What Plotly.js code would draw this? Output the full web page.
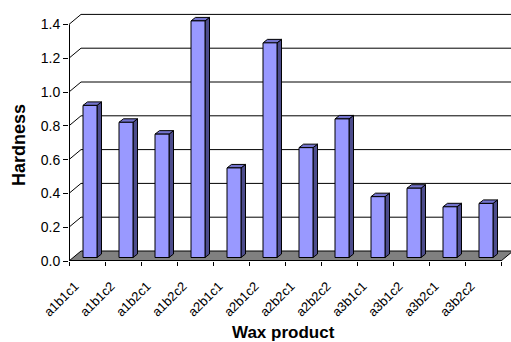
<!DOCTYPE html>
<html>
<head>
<meta charset="utf-8">
<script src="https://cdn.plot.ly/plotly-3.0.1.min.js"></script>
<style>html,body{margin:0;padding:0;background:#fff;}#chart{width:511px;height:342px;}</style>
</head>
<body>
<div id="chart"></div>
<script>
// ---- data ----
const categories = ['a1b1c1','a1b1c2','a1b2c1','a1b2c2','a2b1c1','a2b1c2','a2b2c1','a2b2c2','a3b1c1','a3b1c2','a3b2c1','a3b2c2'];
const hardness = [0.90, 0.80, 0.73, 1.40, 0.53, 1.27, 0.65, 0.82, 0.36, 0.41, 0.30, 0.32];
const yTicks = [0.0, 0.2, 0.4, 0.6, 0.8, 1.0, 1.2, 1.4];
const xTitle = 'Wax product';
const yTitle = 'Hardness';

// ---- geometry (pixels -> data units) ----
const W = 511, H = 342;
const M = {l: 69, r: 0, t: 8, b: 81};
const pxCat = 36;            // px per category
const pxUnit = 169;          // px per hardness unit
const xMin = -0.5;
const xMax = xMin + (W - M.l - M.r) / pxCat;
const yMax = (H - M.t - M.b) / pxUnit;
const n = categories.length;
const xEnd = xMin + n;
const wallDx = 12 / pxCat, wallDy = 10 / pxUnit;   // back wall depth offset
const barOffX = 3 / pxCat, barOffY = 3.5 / pxUnit; // bar front face position in depth
const barW = 14 / pxCat;
const barDx = 4.5 / pxCat, barDy = 3.5 / pxUnit;   // bar depth
const labelShift = -12 / pxCat;                    // tick label anchor shift
const yTop = yTicks[yTicks.length - 1];

function poly(arrX, arrY, pts) { pts.forEach(p => { arrX.push(p[0]); arrY.push(p[1]); }); arrX.push(null); arrY.push(null); }

// gridlines on the back wall + side wall diagonals
const gx = [], gy = [];
yTicks.forEach(v => { if (v > 0) poly(gx, gy, [[xMin, v], [xMin + wallDx, v + wallDy], [xMax, v + wallDy]]); });

// floor
const fx = [], fy = [];
poly(fx, fy, [[xMin, 0], [xEnd, 0], [xEnd + wallDx, wallDy], [xMin + wallDx, wallDy], [xMin, 0]]);

// bars
const frX = [], frY = [], sdX = [], sdY = [], tpX = [], tpY = [];
hardness.forEach((v, i) => {
  const xl = i - barW / 2 + barOffX, xr = xl + barW;
  const b = barOffY, t = barOffY + v;
  poly(frX, frY, [[xl, b], [xr, b], [xr, t], [xl, t], [xl, b]]);
  poly(sdX, sdY, [[xr, b], [xr + barDx, b + barDy], [xr + barDx, t + barDy], [xr, t], [xr, b]]);
  poly(tpX, tpY, [[xl, t], [xr, t], [xr + barDx, t + barDy], [xl + barDx, t + barDy], [xl, t]]);
});

const lineBlack = {color: '#000', width: 1};
const traces = [
  {x: gx, y: gy, mode: 'lines', line: lineBlack, hoverinfo: 'skip'},
  {x: fx, y: fy, mode: 'lines', fill: 'toself', fillcolor: '#808080', line: lineBlack, hoverinfo: 'skip'},
  {x: sdX, y: sdY, mode: 'lines', fill: 'toself', fillcolor: '#4c4c8c', line: lineBlack, hoverinfo: 'skip'},
  {x: tpX, y: tpY, mode: 'lines', fill: 'toself', fillcolor: '#7373cc', line: lineBlack, hoverinfo: 'skip'},
  {x: frX, y: frY, mode: 'lines', fill: 'toself', fillcolor: '#9999ff', line: lineBlack, hoverinfo: 'skip'},
  {x: [xMin, xMin], y: [0, yTop], mode: 'lines', line: {color: '#000', width: 2}, hoverinfo: 'skip'},
  {x: [xMin, xEnd], y: [0, 0], mode: 'lines', line: {color: '#000', width: 2}, hoverinfo: 'skip'}
];

const font = 'Liberation Sans, Arial, sans-serif';
const boundaries = [];
for (let k = 0; k <= n; k++) boundaries.push(xMin + k);

const layout = {
  width: W, height: H, margin: M,
  paper_bgcolor: '#fff', plot_bgcolor: '#fff',
  showlegend: false,
  font: {family: font, color: '#000'},
  xaxis: {
    range: [xMin, xMax], tickmode: 'array',
    tickvals: categories.map((c, i) => i + labelShift), ticktext: categories,
    tickangle: -45, ticks: '', showgrid: false, zeroline: false, showline: false,
    ticklabelstandoff: 14,
    tickfont: {family: font, size: 13, color: '#000'},
    minor: {tickmode: 'array', tickvals: boundaries, ticks: 'outside', ticklen: 4, tickcolor: '#000', tickwidth: 1, showgrid: false}
  },
  yaxis: {
    range: [0, yMax], tickmode: 'array', tickvals: yTicks, tickformat: '.1f',
    ticks: 'outside', ticklen: 5, tickcolor: '#000', tickwidth: 1,
    showgrid: false, zeroline: false, showline: false,
    tickfont: {family: font, size: 14, color: '#000'}
  },
  annotations: [
    {text: '<b>' + xTitle + '</b>', xref: 'paper', yref: 'paper',
     x: (283 - M.l) / (W - M.l - M.r), y: -(H + 1 - (H - M.b)) / (H - M.t - M.b),
     xanchor: 'center', yanchor: 'bottom', showarrow: false, borderpad: 0,
     font: {family: font, size: 17, color: '#000'}},
    {text: '<b>' + yTitle + '</b>', xref: 'paper', yref: 'paper', textangle: -90,
     x: (19 - M.l) / (W - M.l - M.r), y: ((H - M.b) - 145) / (H - M.t - M.b),
     xanchor: 'center', yanchor: 'middle', showarrow: false, font: {family: font, size: 18, color: '#000'}}
  ]
};

Plotly.newPlot('chart', traces, layout, {staticPlot: true, displayModeBar: false});
</script>
</body>
</html>
